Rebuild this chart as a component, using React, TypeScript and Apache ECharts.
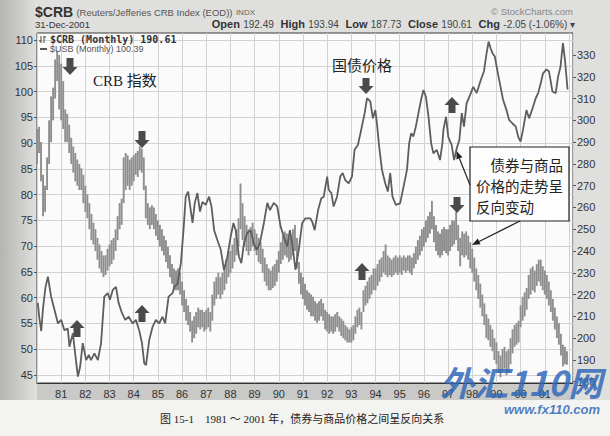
import React, { useEffect, useRef } from 'react';
import * as echarts from 'echarts';

// CRB monthly bars (Jan 1980 = month 0 ... Dec 2001 = month 263), right axis
const crbLow = [
  280, 285, 272, 256, 258, 268, 280, 290, 300, 310, 318, 305,
  300, 296, 290, 290, 285, 280, 276, 272, 270, 268, 268, 262,
  258, 255, 250, 245, 243, 240, 236, 232, 230, 228, 229, 231,
  233, 234, 236, 240, 245, 250, 252, 262, 268, 270, 268, 270,
  272, 275, 274, 277, 276, 268, 255, 252, 250, 252, 250, 247,
  245, 242, 240, 238, 235, 232, 228, 225, 222, 222, 222, 220,
  215, 212, 208, 206, 203, 198, 200, 202, 205, 204, 205, 203,
  204, 205, 203, 208, 215, 218, 220, 218, 220, 222, 225, 228,
  230, 232, 235, 238, 242, 250, 245, 242, 240, 238, 240, 242,
  240, 238, 235, 234, 230, 226, 224, 222, 222, 223, 224, 226,
  230, 234, 236, 238, 237, 235, 236, 238, 240, 232, 225, 220,
  218, 215, 213, 212, 210, 210, 208, 207, 208, 210, 208, 204,
  203, 202, 203, 202, 203, 205, 203, 201, 200, 199, 198, 198,
  198, 199, 202, 205, 206, 204, 212, 215, 216, 218, 220, 222,
  222, 224, 226, 228, 230, 229, 228, 229, 228, 229, 230, 229,
  230, 229, 231, 230, 231, 230, 229, 232, 234, 236, 238, 240,
  242, 244, 246, 248, 250, 244, 240, 238, 237, 238, 240, 239,
  238, 240, 242, 243, 245, 240, 233, 238, 237, 238, 236, 232,
  230, 226, 222, 218, 214, 210, 206, 200, 199, 196, 194, 190,
  188, 184, 182, 185, 186, 183, 184, 188, 193, 196, 197, 198,
  205, 208, 210, 213, 218, 220, 222, 221, 224, 226, 224, 222,
  220, 218, 215, 212, 208, 204, 200, 197, 192, 187, 188, 187.73,
];
const crbHigh = [
  296, 297, 290, 275, 270, 283, 300, 311, 315, 328, 332, 330,
  326, 318, 305, 303, 298, 292, 288, 285, 282, 280, 278, 275,
  270, 266, 262, 257, 253, 250, 246, 243, 240, 238, 238, 241,
  243, 245, 246, 250, 256, 262, 264, 283, 285, 284, 282, 283,
  284, 285, 286, 288, 287, 283, 270, 262, 260, 261, 260, 257,
  254, 252, 250, 247, 245, 242, 238, 234, 232, 231, 232, 230,
  226, 222, 218, 215, 212, 208, 210, 212, 214, 213, 213, 212,
  213, 214, 212, 220, 226, 228, 230, 228, 230, 232, 236, 240,
  240, 243, 246, 250, 255, 271, 262, 256, 252, 250, 251, 253,
  250, 248, 246, 244, 241, 237, 234, 232, 231, 233, 234, 236,
  240, 244, 247, 249, 248, 246, 247, 250, 252, 246, 235, 230,
  228, 225, 222, 221, 220, 219, 217, 216, 217, 218, 216, 213,
  212, 211, 210, 210, 211, 212, 210, 209, 208, 206, 205, 204,
  205, 206, 210, 213, 214, 212, 222, 224, 226, 228, 229, 232,
  232, 234, 236, 237, 240, 243, 238, 237, 236, 237, 238, 237,
  238, 237, 238, 237, 238, 238, 237, 239, 242, 245, 247, 250,
  251, 254, 256, 258, 263, 256, 252, 249, 248, 250, 251, 250,
  250, 252, 254, 254, 258, 252, 246, 249, 248, 249, 247, 244,
  241, 237, 232, 229, 225, 220, 216, 211, 209, 206, 204, 200,
  198, 194, 192, 195, 196, 194, 195, 200, 204, 206, 207, 208,
  215, 219, 221, 223, 229, 232, 233, 231, 234, 236, 236, 233,
  231, 229, 226, 222, 218, 214, 210, 207, 202, 197, 196, 193.94,
];

// USB monthly line (month offset from Jan 1980), left axis
const usbMonth = [
  0.4, 1.1, 2.1, 3, 4.2, 5.4, 7, 8.7, 10.4, 12, 13.6, 15.3, 16.1, 17.8, 19.1, 20.3, 21.4, 22.7,
  24.4, 25.7, 26.8, 28.5, 30.2, 31.8, 33.4, 35.1, 36.2, 37.6, 39.2, 40.5, 42.2, 43.8, 45.5, 47.5,
  49.1, 50.7, 52.1, 53.2, 54.1, 55.7, 57.4, 59, 60.6, 62.3, 63.6, 65.3, 67.3, 68.1, 69.7, 71.4,
  72.7, 73.8, 75, 76.3, 77.2, 78.3, 79.6, 80.9, 82.1, 83.7, 85.4, 86.6, 87.9, 89.5, 91.2, 92.8,
  94.5, 96.1, 97.5, 98.6, 100.2, 101.4, 102.7, 104.4, 106, 107.6, 109, 110.6, 112.6, 114.3, 115.6,
  117.5, 119.2, 120.9, 122.5, 124.2, 125.5, 126.6, 128.3, 129.9, 131.6, 133.2, 134.9, 135.7, 136.8,
  137.8, 139.5, 141.1, 142.3, 144, 144.8, 146.1, 147.2, 148.9, 150.5, 151.7, 153, 154.7, 156.3,
  157.6, 159.3, 160.9, 162.6, 163.8, 165.4, 166.7, 167.9, 168.7, 169.8, 171.2, 172.8, 174.1, 175.3,
  176.4, 178.1, 180.2, 181.9, 183.6, 184.7, 185.7, 186.8, 188, 189.3, 190.6, 191.8, 193, 194.3,
  195.6, 196.7, 198.4, 200, 201.2, 201.7, 203, 204.1, 205.8, 207, 208.3, 209.6, 210.8, 211.9,
  213.2, 214.9, 216.5, 218.2, 220.2, 221.8, 223.1, 224.1, 225.1, 226.1, 227.2, 228.4, 229.7,
  231.3, 233, 234.3, 236, 237.6, 238.8, 240, 241.2, 242.9, 244.2, 245.9, 247.5, 248.7, 249.8,
  251.1, 252.8, 254.1, 255.8, 257.4, 258.6, 259.8, 261, 262, 263.3,
];
const usbValue = [
  59, 56.3, 53.5, 58, 62, 64.1, 60.2, 57.6, 55, 55.7, 53.7, 54, 50.5, 53.1, 48.6, 44.7, 46.6, 51.2,
  47.9, 48.9, 47.9, 49.2, 47.9, 51.2, 60.2, 60.9, 59.6, 61.5, 62.1, 59, 57, 55.7, 56.3, 55,
  55.7, 53.7, 51.2, 47.3, 46.9, 51.8, 54.4, 55.7, 55, 56.3, 55, 60.2, 60.9, 62.1, 62.7, 66.7,
  73.1, 79.6, 80.6, 77, 74.5, 78.4, 80.3, 76.7, 78.6, 78, 79.6, 77.7, 73.1, 71.2, 69.3, 65.4,
  68, 71.8, 74.5, 73.1, 68, 66.7, 70.6, 72.6, 73.1, 70.6, 69.3, 70.6, 74.5, 78.4, 77,
  78.4, 77.7, 73.8, 71.8, 69.9, 73.1, 70.6, 65.4, 69.3, 74.5, 75.4, 75.4, 75.4, 74.5,
  73.1, 77, 79.3, 79.6, 83.5, 80.9, 80.3, 77.7, 79.6, 83.5, 84.2, 82.8, 82.2, 83.5,
  88.7, 89.7, 92.6, 95.8, 98.7, 98.1, 94.8, 96.4, 93.8, 89.3, 84.8, 82.2, 80.6, 84.2,
  79.6, 78, 78.3, 81.5, 84.8, 90, 91.9, 91.3, 93.2, 95.8, 98.4, 100.3, 99, 95.1,
  90, 88, 88.7, 86.7, 90, 92.6, 95.1, 91.2, 89.6, 86.7, 89, 90.6, 95.8, 93.2,
  97.7, 99.3, 100.9, 99.7, 102.2, 103.9, 107.4, 109.7, 108.4, 107.4, 106.8, 104.2, 101.6,
  98.4, 96.4, 94.5, 93.8, 93.2, 91.2, 90.3, 92.6, 96.4, 94.8, 96.7, 98.7, 99.7, 101.3,
  103.5, 104.3, 103.9, 100, 99.7, 102.9, 104.8, 109.4, 106.2, 100.39,
];

const usbTicks = [45, 50, 55, 60, 65, 70, 75, 80, 85, 90, 95, 100, 105, 110];
const crbTicks = [180, 190, 200, 210, 220, 230, 240, 250, 260, 270, 280, 290, 300, 310, 320, 330];

const ARROW = '#4a4a4a';
const CJK = '"Liberation Serif", "Noto Sans CJK SC", serif';

function blockArrow(cx: number, y0: number, y1: number, down: boolean) {
  const h = y1 - y0;
  const sh = 3.5, hw = 7.5, hh = 8;
  let pts: number[][];
  if (down) {
    const yb = y0 + (h - hh);
    pts = [[cx - sh, y0], [cx + sh, y0], [cx + sh, yb], [cx + hw, yb], [cx, y1], [cx - hw, yb], [cx - sh, yb]];
  } else {
    const yb = y0 + hh;
    pts = [[cx, y0], [cx + hw, yb], [cx + sh, yb], [cx + sh, y1], [cx - sh, y1], [cx - sh, yb], [cx - hw, yb]];
  }
  return { type: 'polygon', z: 100, shape: { points: pts }, style: { fill: ARROW } };
}

function thinArrow(x1: number, y1: number, x2: number, y2: number) {
  const a = Math.atan2(y2 - y1, x2 - x1);
  const L = 8, W = 3.2;
  const bx = x2 - L * Math.cos(a), by = y2 - L * Math.sin(a);
  const px = -Math.sin(a) * W, py = Math.cos(a) * W;
  return [
    { type: 'line', z: 100, shape: { x1, y1, x2: bx, y2: by }, style: { stroke: '#222', lineWidth: 1.2 } },
    { type: 'polygon', z: 100, shape: { points: [[x2, y2], [bx + px, by + py], [bx - px, by - py]] }, style: { fill: '#222' } },
  ];
}

export default function App() {
  const ref = useRef<HTMLDivElement>(null);
  useEffect(() => {
    document.body.style.margin = '0';
    const chart = echarts.init(ref.current!, null, { renderer: 'svg' });
    const crbData = crbLow.map((lo, i) => [i, lo, crbHigh[i]]);
    const usbData = usbMonth.map((m, i) => [m, usbValue[i]]);
    const axisFont = { fontFamily: '"Liberation Sans", Arial, sans-serif', fontSize: 11, color: '#333' };

    const option: any = {
      animation: false,
      backgroundColor: '#f3f3f1',
      grid: {
        left: 37, right: 37, top: 33, height: 350,
        show: true, backgroundColor: '#fbfbfb', borderColor: '#3a3a3a', borderWidth: 1,
      },
      xAxis: {
        type: 'value', min: 0, max: 266, interval: 12,
        axisLine: { show: true, lineStyle: { color: '#333' } },
        axisTick: { show: false },
        splitLine: { show: true, lineStyle: { color: '#d2d2d2', width: 1 } },
        axisLabel: {
          ...axisFont, margin: 5,
          formatter: (v: number) => (v <= 0 || v >= 264 ? '' : String((80 + v / 12) % 100).padStart(2, '0')),
        },
      },
      yAxis: [
        {
          type: 'value', position: 'left', min: 43.45, max: 111.36,
          axisLine: { show: false },
          axisTick: { show: true, length: 3, customValues: usbTicks, lineStyle: { color: '#555' } },
          axisLabel: { ...axisFont, margin: 4, customValues: usbTicks },
          splitLine: { show: true, lineStyle: { color: '#d2d2d2', width: 1 } },
        },
        {
          type: 'value', position: 'right', min: 179.4, max: 340.1,
          axisLine: { show: false },
          axisTick: { show: true, length: 3, customValues: crbTicks, lineStyle: { color: '#555' } },
          axisLabel: { ...axisFont, margin: 4, customValues: crbTicks },
          splitLine: { show: false },
        },
      ],
      series: [
        {
          name: '$CRB', type: 'custom', yAxisIndex: 1, z: 3,
          encode: { x: 0, y: [1, 2] },
          data: crbData,
          renderItem: (params: any, api: any) => {
            const m = api.value(0), lo = api.value(1), hi = api.value(2);
            const p1 = api.coord([m, lo]);
            const p2 = api.coord([m, hi]);
            return {
              type: 'rect',
              shape: { x: p1[0] - 0.95, y: p2[1], width: 1.9, height: Math.max(1, p1[1] - p2[1]) },
              style: { fill: '#8e8e8e' },
            };
          },
        },
        {
          name: '$USB', type: 'line', yAxisIndex: 0, z: 4,
          data: usbData, showSymbol: false, symbol: 'none',
          lineStyle: { color: '#5e5e5e', width: 1.8 },
        },
      ],
      graphic: [
        { type: 'rect', z: -100, shape: { x: 0, y: 0, width: 610, height: 400 }, style: { fill: '#dfdfdd' } },
        {
          type: 'rect', z: -99, shape: { x: 0, y: 0, width: 36, height: 400 },
          style: {
            fill: new echarts.graphic.LinearGradient(0, 0, 1, 0, [
              { offset: 0, color: '#b4b4b2' }, { offset: 1, color: '#dfdfdd' },
            ]),
          },
        },
        { type: 'rect', z: -98, shape: { x: 37, y: 383, width: 536, height: 17 }, style: { fill: '#c9c9c7' } },
        // header
        {
          type: 'text', z: 100, x: 35, y: 12,
          style: {
            text: '{a|$CRB} {b|(Reuters/Jefferies CRB Index (EOD))} {c|INDX}',
            verticalAlign: 'middle',
            rich: {
              a: { fontFamily: '"Liberation Sans", Arial', fontSize: 14, fontWeight: 'bold', fill: '#333' },
              b: { fontFamily: '"Liberation Sans", Arial', fontSize: 9.5, fill: '#555' },
              c: { fontFamily: '"Liberation Sans", Arial', fontSize: 8, fill: '#666' },
            },
          },
        },
        {
          type: 'text', z: 100, x: 35, y: 24,
          style: { text: '31-Dec-2001', verticalAlign: 'middle', fontFamily: '"Liberation Sans", Arial', fontSize: 9.5, fill: '#333' },
        },
        {
          type: 'text', z: 100, x: 573, y: 11,
          style: { text: '© StockCharts.com', align: 'right', verticalAlign: 'middle', fontFamily: '"Liberation Sans", Arial', fontSize: 9.5, fill: '#888' },
        },
        {
          type: 'text', z: 100, x: 575, y: 24,
          style: {
            text: '{b|Open} {n|192.49}  {b|High} {n|193.94}  {b|Low} {n|187.73}  {b|Close} {n|190.61}  {b|Chg} {n|-2.05 (-1.06%) ▾}',
            align: 'right', verticalAlign: 'middle',
            rich: {
              b: { fontFamily: '"Liberation Sans", Arial', fontSize: 11, fontWeight: 'bold', fill: '#333' },
              n: { fontFamily: '"Liberation Sans", Arial', fontSize: 10, fill: '#444' },
            },
          },
        },
        // legend in plot
        { type: 'line', z: 100, shape: { x1: 41, y1: 36, x2: 41, y2: 43 }, style: { stroke: '#444', lineWidth: 1 } },
        { type: 'line', z: 100, shape: { x1: 39, y1: 41, x2: 41, y2: 41 }, style: { stroke: '#444', lineWidth: 1 } },
        { type: 'line', z: 100, shape: { x1: 44, y1: 36, x2: 44, y2: 43 }, style: { stroke: '#444', lineWidth: 1 } },
        { type: 'line', z: 100, shape: { x1: 44, y1: 37, x2: 46, y2: 37 }, style: { stroke: '#444', lineWidth: 1 } },
        {
          type: 'text', z: 100, x: 50, y: 39,
          style: { text: '$CRB (Monthly) 190.61', verticalAlign: 'middle', fontFamily: '"DejaVu Sans Mono", monospace', fontSize: 10, fontWeight: 'bold', fill: '#333' },
        },
        { type: 'line', z: 100, shape: { x1: 40, y1: 49, x2: 47, y2: 49 }, style: { stroke: '#555', lineWidth: 2 } },
        {
          type: 'text', z: 100, x: 50, y: 49,
          style: { text: '$USB (Monthly) 100.39', verticalAlign: 'middle', fontFamily: '"Liberation Sans", Arial', fontSize: 9, fill: '#555' },
        },
        // annotations
        { type: 'text', z: 100, x: 93, y: 81, style: { text: 'CRB 指数', verticalAlign: 'middle', font: `15px ${CJK}`, fill: '#222' } },
        { type: 'text', z: 100, x: 332, y: 66, style: { text: '国债价格', verticalAlign: 'middle', font: `15px ${CJK}`, fill: '#222' } },
        blockArrow(70, 58, 75, true),
        blockArrow(142, 131, 148, true),
        blockArrow(366, 78, 94, true),
        blockArrow(457, 197, 213, true),
        blockArrow(77, 320, 337, false),
        blockArrow(142, 305, 322, false),
        blockArrow(362, 263, 280, false),
        blockArrow(452, 97, 113, false),
        { type: 'rect', z: 100, shape: { x: 470, y: 147, width: 99, height: 74 }, style: { fill: '#fdfdfd', stroke: '#222', lineWidth: 1.2 } },
        { type: 'text', z: 101, x: 563, y: 166, style: { text: '债券与商品', align: 'right', verticalAlign: 'middle', font: `14.5px ${CJK}`, fill: '#222' } },
        { type: 'text', z: 101, x: 476, y: 187, style: { text: '价格的走势呈', verticalAlign: 'middle', font: `14.5px ${CJK}`, fill: '#222' } },
        { type: 'text', z: 101, x: 476, y: 208, style: { text: '反向变动', verticalAlign: 'middle', font: `14.5px ${CJK}`, fill: '#222' } },
        ...thinArrow(470, 185, 456.5, 151),
        ...thinArrow(520, 221, 472, 245),
        // watermark
        {
          type: 'text', z: 110, x: 440, y: 381,
          style: { text: '外汇110网', verticalAlign: 'middle', font: 'italic bold 34px "Noto Sans CJK SC", sans-serif', fill: 'rgba(50,105,185,0.85)' },
        },
        {
          type: 'text', z: 110, x: 600, y: 409,
          style: { text: 'www.fx110.com', align: 'right', verticalAlign: 'middle', font: 'italic bold 13px "Liberation Sans", Arial', fill: 'rgba(50,105,185,0.85)' },
        },
        // caption
        {
          type: 'text', z: 100, x: 160, y: 419,
          style: { text: '图 15-1    1981 ～ 2001 年，债券与商品价格之间呈反向关系', verticalAlign: 'middle', font: `11px ${CJK}`, fill: '#222' },
        },
      ],
    };
    chart.setOption(option);
    return () => chart.dispose();
  }, []);
  return <div ref={ref} style={{ width: 610, height: 436 }} />;
}
